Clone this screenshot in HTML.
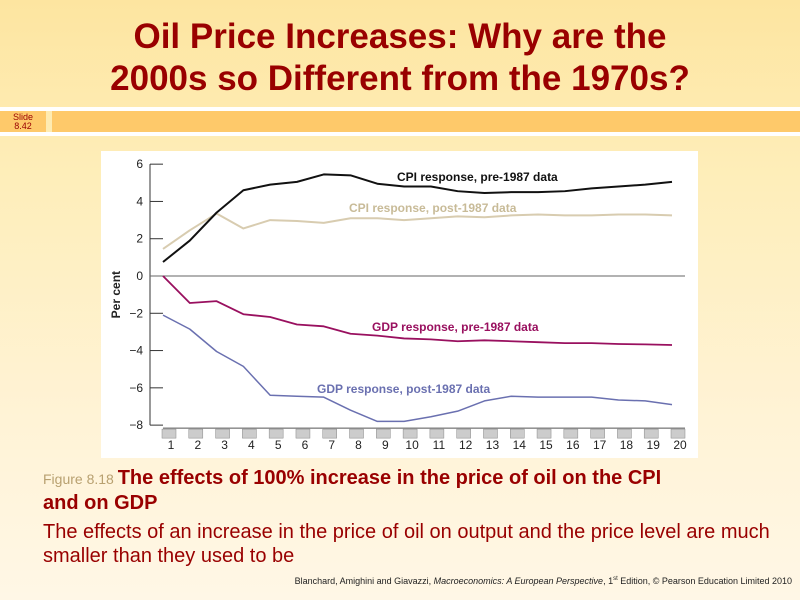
<!DOCTYPE html>
<html><head><meta charset="utf-8"><style>
body{margin:0;width:800px;height:600px;overflow:hidden;font-family:"Liberation Sans",sans-serif;}
#bg{position:absolute;left:0;top:0;width:800px;height:600px;background:linear-gradient(#fde5a0 0%,#feeeba 30%,#fff3d6 70%,#fff7e6 100%);}
.t{position:absolute;color:#990000;}
</style></head><body>
<div id="bg"></div>
<div class="t" style="left:0;width:800px;top:16px;text-align:center;font-size:35px;font-weight:bold;line-height:42px;">Oil Price Increases: Why are the<br>2000s so Different from the 1970s?</div>
<div style="position:absolute;left:0;top:111px;width:46px;height:21px;background:#fec96a;"></div>
<div style="position:absolute;left:52px;top:111px;width:748px;height:21px;background:#fec96a;"></div>
<div style="position:absolute;left:0;top:107px;width:800px;height:4px;background:#fff;"></div>
<div style="position:absolute;left:0;top:132px;width:800px;height:4px;background:#fff;"></div>
<div class="t" style="left:0;top:113px;width:46px;text-align:center;font-size:9px;line-height:9px;">Slide<br>8.42</div>
<svg id="chart" style="position:absolute;left:0;top:0" width="800" height="600"></svg>
<div class="t" style="left:43px;top:466px;font-size:20px;font-weight:bold;line-height:24px;width:760px;white-space:nowrap;"><span style="color:#b8a070;font-weight:normal;font-size:14px;">Figure 8.18 </span> The effects of 100% increase in the price of oil on the CPI<br>and on GDP</div>
<div class="t" style="left:43px;top:520px;font-size:20px;line-height:24px;width:760px;white-space:nowrap;">The effects of an increase in the price of oil on output and the price level are much<br>smaller than they used to be</div>
<div style="position:absolute;right:8px;top:576px;font-size:9px;color:#222;white-space:nowrap;">Blanchard, Amighini and Giavazzi, <i>Macroeconomics: A European Perspective</i>, 1<sup style="font-size:6px">st</sup> Edition, © Pearson Education Limited 2010</div>
<script>
const periods=[1,2,3,4,5,6,7,8,9,10,11,12,13,14,15,16,17,18,19,20];
const yTicks=[6,4,2,0,-2,-4,-6,-8];
const yTickLabels=["6","4","2","0","\u22122","\u22124","\u22126","\u22128"];
const cpiPre=[0.75,1.9,3.4,4.6,4.9,5.05,5.45,5.4,4.95,4.8,4.8,4.55,4.45,4.5,4.5,4.55,4.7,4.8,4.9,5.05];
const cpiPost=[1.45,2.45,3.35,2.55,3.0,2.95,2.85,3.1,3.1,3.0,3.1,3.2,3.15,3.25,3.3,3.25,3.25,3.3,3.3,3.25];
const gdpPre=[0,-1.45,-1.35,-2.05,-2.2,-2.6,-2.7,-3.1,-3.2,-3.35,-3.4,-3.5,-3.45,-3.5,-3.55,-3.6,-3.6,-3.65,-3.67,-3.7];
const gdpPost=[-2.1,-2.85,-4.05,-4.85,-6.4,-6.45,-6.5,-7.2,-7.8,-7.8,-7.55,-7.25,-6.7,-6.45,-6.5,-6.5,-6.5,-6.65,-6.7,-6.9];
const NS="http://www.w3.org/2000/svg";
const svg=document.getElementById('chart');
const x=p=>163+(p-1)*(672-163)/19;
const y=v=>276-v*18.64;
function mk(t,a,p){const e=document.createElementNS(NS,t);for(const k in a)e.setAttribute(k,a[k]);(p||svg).appendChild(e);return e;}
const box=mk('rect',{x:101,y:151,width:597,height:307,fill:'#fff'});


const ax=mk('line',{x1:150,y1:y(6),x2:150,y2:y(-8),stroke:'#333','stroke-width':1});


yTicks.forEach((v,i)=>{
 const tk=mk('line',{x1:150,y1:y(v),x2:163,y2:y(v),stroke:'#333'});
 
 
 const tl=mk('text',{x:143,y:y(v)+4,'text-anchor':'end','font-size':12,fill:'#222'});
 tl.textContent=yTickLabels[i];
 
 
});
const zl=mk('line',{x1:150,y1:y(0),x2:685,y2:y(0),stroke:'#666'});


const yt=mk('text',{x:120,y:y(-1),'text-anchor':'middle','font-size':12,'font-weight':'bold',fill:'#222',transform:`rotate(-90 120 ${y(-1)})`});
yt.textContent='Per cent';


const xa=mk('line',{x1:163,y1:y(-8)+3,x2:685,y2:y(-8)+3,stroke:'#555'});


periods.forEach(p=>{
 const r=mk('rect',{x:x(p)-1,y:y(-8)+4,width:14,height:9,fill:'#ccc',stroke:'#888','stroke-width':0.5});
 
 
 const t=mk('text',{x:x(p)+8,y:449,'text-anchor':'middle','font-size':12,fill:'#222'});
 t.textContent=p;
 
 
});
function line(d,c,w,name){
 const l=mk('polyline',{points:d.map((v,i)=>x(periods[i])+','+y(v)).join(' '),fill:'none',stroke:c,'stroke-width':w,'stroke-linejoin':'round'});
 
 
}
line(cpiPost,'#d8ccb0',2,'cpi-post-1987-line');
line(cpiPre,'#111',2,'cpi-pre-1987-line');
line(gdpPre,'#99105f',1.8,'gdp-pre-1987-line');
line(gdpPost,'#6a70b0',1.5,'gdp-post-1987-line');
function lab(s,xx,yy,c,name){const t=mk('text',{x:xx,y:yy,'font-size':12,'font-weight':'bold',fill:c});t.textContent=s;
 
 }
lab('CPI response, pre-1987 data',397,181,'#111','cpi-pre-label');
lab('CPI response, post-1987 data',349,212,'#c8bb98','cpi-post-label');
lab('GDP response, pre-1987 data',372,331,'#99105f','gdp-pre-label');
lab('GDP response, post-1987 data',317,393,'#6a70b0','gdp-post-label');
</script>
</body></html>
